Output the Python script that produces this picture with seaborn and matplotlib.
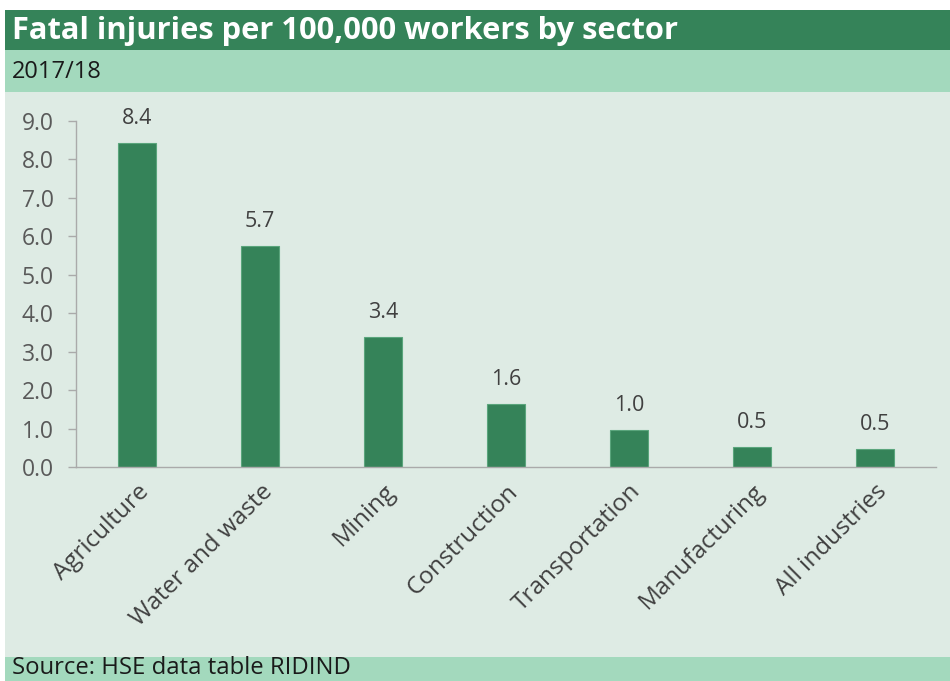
import matplotlib
matplotlib.use("Agg")
import matplotlib.pyplot as plt
import seaborn as sns
import pandas as pd
from matplotlib.patches import Rectangle

categories = ["Agriculture", "Water and waste", "Mining", "Construction",
              "Transportation", "Manufacturing", "All industries"]
values = [8.44, 5.74, 3.39, 1.63, 0.96, 0.53, 0.48]
yticks = [0.0, 1.0, 2.0, 3.0, 4.0, 5.0, 6.0, 7.0, 8.0, 9.0]

title = "Fatal injuries per 100,000 workers by sector"
subtitle = "2017/18"
source = "Source: HSE data table RIDIND"

dark = "#358359"
light = "#a3d9bd"
bg = "#deebe4"
grey = "#595959"

sns.set_style("white")
plt.rcParams["font.family"] = ["Open Sans", "DejaVu Sans"]

W, H = 950, 681
fig = plt.figure(figsize=(W / 100, H / 100), dpi=100)
fig.patch.set_facecolor("white")

def rect(x0, y0, x1, y1, color):
    fig.patches.append(Rectangle((x0 / W, 1 - y1 / H), (x1 - x0) / W, (y1 - y0) / H,
                                 transform=fig.transFigure, facecolor=color,
                                 edgecolor="none", zorder=-5))

rect(5, 10, W, 50, dark)
rect(5, 50, W, 92, light)
rect(5, 92, W, 657, bg)
rect(5, 657, W, H, light)

fig.text(12 / W, 1 - 31 / H, title, color="white", fontsize=22.2, fontweight="bold",
         va="center", ha="left")
fig.text(12 / W, 1 - 72 / H, subtitle, color="#1a1a1a", fontsize=17,
         va="center", ha="left")
fig.text(12 / W, 1 - 668 / H, source, color="#1a1a1a", fontsize=17.2,
         va="center", ha="left")

ax = fig.add_axes([76 / W, 1 - 467 / H, (936 - 76) / W, (467 - 121) / H])
ax.set_zorder(2)
ax.patch.set_alpha(0)

df = pd.DataFrame({"sector": categories, "rate": values})
sns.barplot(data=df, x="sector", y="rate", ax=ax, color=dark, width=0.31,
            saturation=1, edgecolor="#5aa57c", linewidth=0.8)

ax.set_ylim(0, 9)
ax.set_xlim(-0.5, len(categories) - 0.5)
ax.set_yticks(yticks)
ax.set_yticklabels([f"{t:.1f}" for t in yticks], color=grey, fontsize=16.5)
ax.set_xticks(range(len(categories)))
ax.set_xticklabels(categories, rotation=45, ha="right", rotation_mode="anchor",
                   color="#404040", fontsize=17.5)
ax.tick_params(axis="x", length=0, pad=9)
ax.tick_params(axis="y", length=6, width=1, color="#aaaaaa", pad=10, left=True)
ax.set_xlabel("")
ax.set_ylabel("")
for s in ["top", "right"]:
    ax.spines[s].set_visible(False)
for s in ["left", "bottom"]:
    ax.spines[s].set_color("#aaaaaa")
    ax.spines[s].set_linewidth(1)

for i, v in enumerate(values):
    ax.annotate(f"{v:.1f}", (i, v), xytext=(0, 10), textcoords="offset points",
                ha="center", va="bottom", color="#404040", fontsize=15.5)

fig.savefig("out.png", dpi=100, facecolor="white")
